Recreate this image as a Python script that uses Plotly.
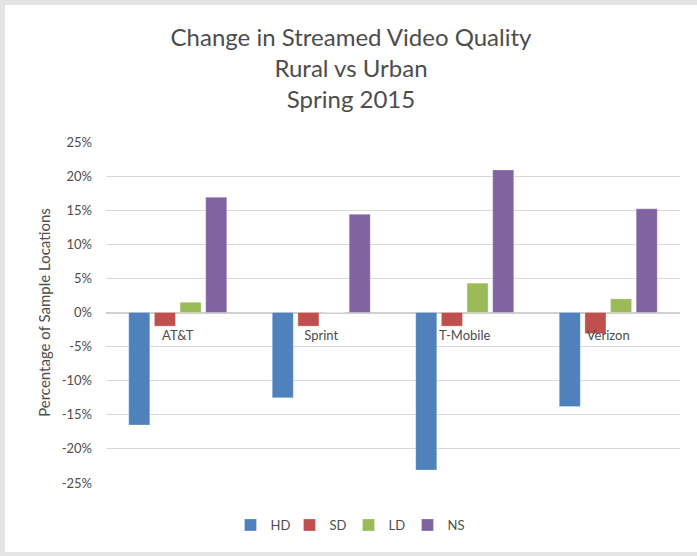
import plotly.graph_objects as go

carriers = ["AT&T", "Sprint", "T-Mobile", "Verizon"]
hd = [-0.165, -0.125, -0.231, -0.138]
sd = [-0.020, -0.020, -0.020, -0.031]
ld = [0.015, 0.0, 0.043, 0.020]
ns = [0.169, 0.144, 0.209, 0.152]
series_names = ["HD", "SD", "LD", "NS"]
series_values = [hd, sd, ld, ns]
colors = ["#4F81BD", "#C0504D", "#9BBB59", "#8064A2"]
y_ticks = [-0.25, -0.20, -0.15, -0.10, -0.05, 0, 0.05, 0.10, 0.15, 0.20, 0.25]
y_tick_labels = ["-25%", "-20%", "-15%", "-10%", "-5%", "0%", "5%", "10%", "15%", "20%", "25%"]

W, H = 697, 556
ML, MR, MT, MB = 106, 17, 142, 73
pw, ph = W - ML - MR, H - MT - MB
FONT = "Lato, 'Open Sans', sans-serif"
GRAY = "#4d4d4d"

fig = go.Figure()
for name, vals, c in zip(series_names, series_values, colors):
    fig.add_trace(go.Bar(
        x=carriers, y=vals, name=name,
        marker=dict(color=c, line=dict(color="rgba(255,255,255,0.35)", width=0.8)),
    ))

# card background with light shadow edges (top, left, bottom)
fig.add_shape(type="rect", xref="paper", yref="paper", layer="below",
              x0=(5 - ML) / pw, x1=(W + 10 - ML) / pw,
              y0=-(552 - MT - ph) / ph, y1=1 + (MT - 5) / ph,
              fillcolor="white", line=dict(width=0))

fig.update_layout(
    width=W, height=H,
    margin=dict(l=ML, r=MR, t=MT, b=MB, autoexpand=False),
    paper_bgcolor="#e4e4e4",
    plot_bgcolor="white",
    font=dict(family=FONT, color=GRAY, size=13),
    title=dict(
        text="Change in Streamed Video Quality<br>Rural vs Urban<br>Spring 2015",
        x=351 / W, xanchor="center", xref="container", y=1 - 46 / H, yanchor="top",
        font=dict(family=FONT, size=24, color=GRAY),
    ),
    barmode="group",
    bargap=0.285,
    bargroupgap=0.18,
    showlegend=True,
    legend=dict(orientation="h", x=0.5, xanchor="center", xref="container",
                y=1 - 525 / H, yanchor="middle", yref="container",
                font=dict(size=13, color=GRAY), itemwidth=30,
                entrywidth=14, entrywidthmode="pixels",
                bgcolor="rgba(0,0,0,0)"),
    xaxis=dict(
        type="category", range=[-0.5, 3.5], automargin=False,
        anchor="free", position=0.5,
        showgrid=False, showline=False, zeroline=False,
        ticks="", tickfont=dict(size=13, color=GRAY),
        ticklabelstandoff=13,
    ),
    yaxis=dict(
        range=[-0.25, 0.25], tickvals=y_ticks, ticktext=y_tick_labels,
        automargin=False,
        showgrid=True, gridcolor="#d9d9d9", gridwidth=1.3,
        zeroline=True, zerolinecolor="#d0d0d0", zerolinewidth=1.5,
        showline=False, ticks="", ticklabelstandoff=13,
        tickfont=dict(size=13, color=GRAY),
        title=dict(text="Percentage of Sample Locations", standoff=7,
                   font=dict(size=15, color=GRAY)),
    ),
)

fig.write_html("out.html", config={"displayModeBar": False},
               post_script="document.body.style.margin='0px';")
